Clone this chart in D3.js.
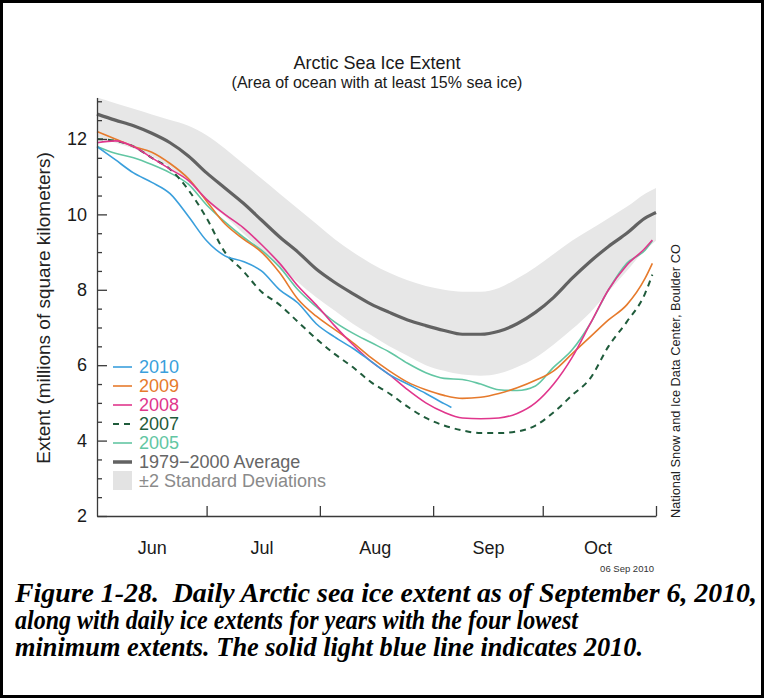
<!DOCTYPE html>
<html><head><meta charset="utf-8">
<script src="https://cdn.jsdelivr.net/npm/d3@7"></script>
<style>html,body{margin:0;padding:0;background:#fff;} svg{display:block;}</style>
</head><body>
<svg id="chart" width="764" height="698"></svg>
<script>
// ---------- DATA ----------
const dates = ["06-01","06-06","06-11","06-16","06-21","06-26","07-01","07-06","07-11","07-16","07-21","07-26","07-31","08-05","08-10","08-15","08-20","08-25","08-30","09-04","09-09","09-14","09-19","09-24","09-29","10-04","10-09","10-14","10-19","10-24","10-29","11-01"];
const yearEndDate = "10-31";
const end2010 = "09-06";

const avg7900   = [12.66,12.5,12.35,12.15,11.9,11.55,11.1,10.7,10.3,9.85,9.4,9.0,8.55,8.2,7.9,7.62,7.4,7.2,7.05,6.92,6.82,6.82,6.9,7.1,7.4,7.8,8.3,8.75,9.15,9.5,9.9,10.05];
const bandUpper = [13.1,12.95,12.8,12.65,12.5,12.35,12.1,11.75,11.35,10.95,10.55,10.15,9.75,9.35,9.0,8.7,8.45,8.25,8.1,8.0,7.95,7.95,8.05,8.3,8.6,8.95,9.3,9.6,9.9,10.2,10.55,10.7];
const bandLower = [12.05,11.9,11.75,11.55,11.25,10.85,10.35,9.95,9.5,9.05,8.6,8.2,7.8,7.45,7.1,6.8,6.5,6.25,6.0,5.85,5.75,5.72,5.78,5.95,6.2,6.55,6.95,7.4,7.95,8.5,9.05,9.3];

const y2010 = [11.8,11.45,11.1,10.85,10.55,9.95,9.3,8.9,8.75,8.5,8.0,7.65,7.1,6.75,6.45,6.1,5.75,5.5,5.25,4.98,4.88];
const y2009 = [12.2,12.0,11.8,11.65,11.35,10.95,10.35,9.75,9.35,9.0,8.45,7.75,7.3,6.95,6.6,6.2,5.85,5.55,5.35,5.2,5.12,5.15,5.25,5.4,5.6,5.85,6.3,6.75,7.2,7.6,8.3,8.7];
const y2008 = [11.9,11.95,11.8,11.5,11.2,10.9,10.4,10.0,9.65,9.2,8.7,8.1,7.6,7.05,6.55,6.1,5.75,5.35,5.0,4.75,4.6,4.58,4.6,4.72,5.0,5.5,6.2,7.1,8.0,8.65,9.1,9.32];
const y2007 = [12.0,11.95,11.8,11.5,11.2,10.65,9.9,9.0,8.5,7.95,7.6,7.15,6.7,6.3,5.95,5.55,5.25,4.9,4.6,4.4,4.27,4.2,4.2,4.24,4.4,4.75,5.2,5.65,6.5,7.15,7.9,8.4];
const y2005 = [11.8,11.62,11.5,11.32,11.1,10.8,10.25,9.8,9.4,9.05,8.6,8.0,7.55,7.15,6.85,6.6,6.35,6.05,5.8,5.65,5.62,5.5,5.35,5.33,5.45,5.95,6.4,7.1,8.0,8.7,9.05,9.3];

const yMajorTicks = [2,4,6,8,10,12];
const monthStarts = ["07-01","08-01","09-01","10-01","11-01"];
const monthMids = ["06-16","07-16","08-16","09-16","10-16"];

const legendLabels = ["2010","2009","2008","2007","2005","1979\u22122000 Average","\u00b12 Standard Deviations"];
const seriesColors = {"2010":"#3a9fdc","2009":"#e67a2c","2008":"#e0368c","2007":"#1f5b3b","2005":"#62c6a3"};

const titleText = "Arctic Sea Ice Extent";
const subtitleText = "(Area of ocean with at least 15% sea ice)";
const yTitle = "Extent (millions of square kilometers)";
const creditText = "National Snow and Ice Data Center, Boulder CO";
const stampText = "06 Sep 2010";
const captionLines = [
  "Figure 1-28.  Daily Arctic sea ice extent as of September 6, 2010,",
  "along with daily ice extents for years with the four lowest",
  "minimum extents. The solid light blue line indicates 2010."
];

// ---------- DRAW ----------
const SANS = "'Liberation Sans', Arial, Helvetica, sans-serif";
const SERIF = "'Liberation Serif', 'Times New Roman', Times, serif";
const parse = s => new Date(2010, +s.slice(0,2)-1, +s.slice(3,5));
const svg = d3.select("#chart");
svg.append("rect").attr("width",764).attr("height",698).attr("fill","#fff");

const x = d3.scaleTime().domain([parse("06-01"), parse("11-01")]).range([97,656]);
const y = d3.scaleLinear().domain([2,13.1]).range([516,97.5]);

// band
const band = dates.map((d,i)=>({d:parse(d), lo:bandLower[i], hi:bandUpper[i]}));
svg.append("path").datum(band)
  .attr("d", d3.area().x(d=>x(d.d)).y0(d=>y(d.lo)).y1(d=>y(d.hi)).curve(d3.curveMonotoneX))
  .attr("fill","#e7e7e7");

const line = d3.line().x(d=>x(d.d)).y(d=>y(d.v)).curve(d3.curveMonotoneX);
const mk = (ds, vs) => vs.map((v,i)=>({d:parse(ds[i]), v}));

// average
svg.append("path").datum(mk(dates, avg7900)).attr("d", line)
  .attr("fill","none").attr("stroke","#626262").attr("stroke-width",3.2);

const yearDates = dates.slice(0,31).concat([yearEndDate]);
const dates2010 = dates.slice(0,20).concat([end2010]);
const series = [
  {k:"2005", ds:yearDates, vs:y2005},
  {k:"2007", ds:yearDates, vs:y2007, dash:"6,5", w:2},
  {k:"2009", ds:yearDates, vs:y2009},
  {k:"2008", ds:yearDates, vs:y2008},
  {k:"2010", ds:dates2010, vs:y2010}
];
series.forEach(s=>{
  svg.append("path").datum(mk(s.ds, s.vs)).attr("d", line)
    .attr("fill","none").attr("stroke", seriesColors[s.k])
    .attr("stroke-width", s.w || 1.6)
    .attr("stroke-dasharray", s.dash || null);
});

// axes
const axisColor = "#3a3a3a";
const gyMinor = svg.append("g").attr("transform","translate(97,0)")
  .call(d3.axisLeft(y).tickValues(d3.range(2.5,13.01,0.5).filter(v=>v%2!==0)).tickSize(-5).tickFormat(""));
gyMinor.select(".domain").remove();
const gy = svg.append("g").attr("transform","translate(97,0)")
  .call(d3.axisLeft(y).tickValues(yMajorTicks).tickSize(-10).tickSizeOuter(0).tickPadding(10).tickFormat(d3.format("d")));
const gx = svg.append("g").attr("transform","translate(0,516)")
  .call(d3.axisBottom(x).tickValues(monthStarts.map(parse)).tickSize(-10).tickSizeOuter(0).tickFormat(""));
const gxl = svg.append("g").attr("transform","translate(0,516)")
  .call(d3.axisBottom(x).tickValues(monthMids.map(parse)).tickSize(0).tickPadding(25).tickFormat(d3.timeFormat("%b")));
gxl.select(".domain").remove();
[gyMinor, gy, gx, gxl].forEach(g=>{
  g.selectAll("path,line").attr("stroke",axisColor).attr("stroke-width",1.3);
  g.selectAll("text").attr("font-family",SANS).attr("font-size",18).attr("fill","#1a1a1a");
});

// titles
svg.append("text").attr("x",377).attr("y",69).attr("text-anchor","middle")
  .attr("font-family",SANS).attr("font-size",18).attr("fill","#1a1a1a").text(titleText);
svg.append("text").attr("x",377).attr("y",87.5).attr("text-anchor","middle")
  .attr("font-family",SANS).attr("font-size",16).attr("fill","#1a1a1a").text(subtitleText);
svg.append("text").attr("transform","translate(50,308) rotate(-90)").attr("text-anchor","middle")
  .attr("font-family",SANS).attr("font-size",19).attr("fill","#222").text(yTitle);
svg.append("text").attr("transform","translate(680,518) rotate(-90)").attr("text-anchor","start")
  .attr("font-family",SANS).attr("font-size",12.8).attr("fill","#222").text(creditText);
svg.append("text").attr("x",654).attr("y",572).attr("text-anchor","end")
  .attr("font-family",SANS).attr("font-size",9.5).attr("fill","#333").text(stampText);

// legend
const legCols = [seriesColors["2010"],seriesColors["2009"],seriesColors["2008"],seriesColors["2007"],seriesColors["2005"],"#666","#8a8a8a"];
const lg = svg.append("g");
legendLabels.forEach((lab,i)=>{
  const cy = 367 + i*19;
  if (i < 5) {
    lg.append("line").attr("x1",113).attr("x2",132).attr("y1",cy).attr("y2",cy)
      .attr("stroke",legCols[i]).attr("stroke-width", i===3?2:1.6)
      .attr("stroke-dasharray", i===3?"6,5":null);
  } else if (i === 5) {
    lg.append("line").attr("x1",113).attr("x2",132).attr("y1",cy).attr("y2",cy)
      .attr("stroke","#626262").attr("stroke-width",3.5);
  } else {
    lg.append("rect").attr("x",113).attr("y",cy-10).attr("width",19).attr("height",19).attr("fill","#e3e3e3");
  }
  lg.append("text").attr("x",139).attr("y",cy+6.4).attr("font-family",SANS).attr("font-size",18)
    .attr("fill",legCols[i]).text(lab);
});

// caption
const capW = [742, 563, 628];
captionLines.forEach((t,i)=>{
  svg.append("text").attr("x",15).attr("y",602+i*27.2)
    .attr("xml:space","preserve").style("white-space","pre")
    .attr("font-family",SERIF).attr("font-weight","bold").attr("font-style","italic")
    .attr("font-size",26.5).attr("fill","#000")
    .attr("textLength",capW[i]).attr("lengthAdjust","spacingAndGlyphs").text(t);
});

// frame
svg.append("rect").attr("x",1.5).attr("y",1.5).attr("width",761).attr("height",695)
  .attr("fill","none").attr("stroke","#000").attr("stroke-width",3);
</script>
</body></html>
